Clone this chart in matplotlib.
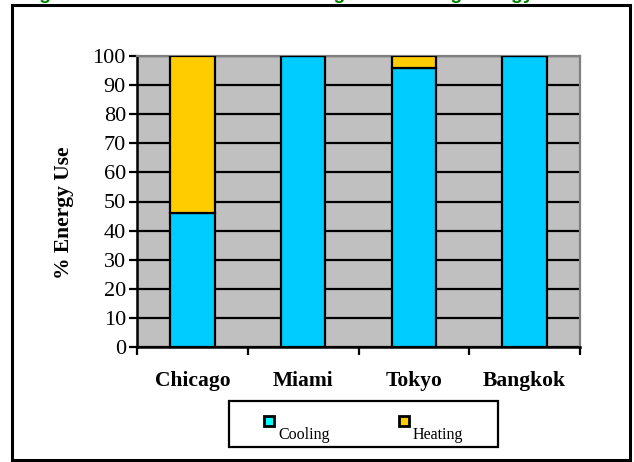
import matplotlib.pyplot as plt
from matplotlib.patches import Rectangle

cities = ['Chicago', 'Miami', 'Tokyo', 'Bangkok']
cooling = [46, 100, 96, 100]
heating = [54, 0, 4, 0]
series = ['Cooling', 'Heating']
colors = ['#00CCFF', '#FFCC00']
legend_colors = ['#00FFFF', '#FFCC00']

plt.rcParams['font.family'] = ['Liberation Serif', 'DejaVu Serif']

fig = plt.figure(figsize=(6.34, 4.62), dpi=100)
W, H = 634, 462

def fx(px):
    return px / W

def fy(py):
    return 1 - py / H

# green title, mostly cut off at top edge (as in the original)
fig.text(fx(22), fy(-1.0), 'Figure 2: Relative Share of Cooling and Heating Energy',
         color='#008000', fontsize=14, fontweight='bold', va='baseline', ha='left',
         family='Liberation Sans')

# outer frame
fig.patches.append(Rectangle((fx(12), fy(460)), fx(630) - fx(12), fy(5) - fy(460),
                             transform=fig.transFigure, fill=False, edgecolor='black',
                             linewidth=2.2))

ax = fig.add_axes([fx(137), fy(347), fx(580) - fx(137), fy(56) - fy(347)])
ax.set_facecolor('#C0C0C0')

x = range(len(cities))
ax.bar(x, cooling, width=0.4, color=colors[0], edgecolor='black', linewidth=1.6, zorder=3)
ax.bar(x, heating, width=0.4, bottom=cooling, color=colors[1], edgecolor='black',
       linewidth=1.6, zorder=3)

ax.set_xlim(-0.5, 3.5)
ax.set_ylim(0, 100)
ax.set_yticks(range(0, 101, 10))
ax.yaxis.grid(True, color='black', linewidth=1.6, zorder=1)
ax.set_axisbelow(True)

ax.set_xticks([i - 0.5 for i in range(5)], minor=False)
ax.set_xticklabels([])
ax.set_xticks(list(x), minor=True)
ax.set_xticklabels(cities, minor=True, fontsize=15.5, fontweight='bold')
ax.tick_params(axis='x', which='minor', length=0, pad=17)
ax.tick_params(axis='x', which='major', direction='out', length=6, width=1.6)
ax.tick_params(axis='y', direction='out', length=6, width=1.6, labelsize=16, pad=2)

for s in ['left', 'bottom']:
    ax.spines[s].set_linewidth(1.8)
    ax.spines[s].set_color('black')
for s in ['top', 'right']:
    ax.spines[s].set_linewidth(1.6)
    ax.spines[s].set_color('#808080')

ax.set_ylabel('% Energy Use', fontsize=15.5, fontweight='bold')
ax.yaxis.set_label_coords(-0.142, 0.46)

# legend box in Excel style
fig.patches.append(Rectangle((fx(229), fy(447)), fx(498) - fx(229), fy(401) - fy(447),
                             transform=fig.transFigure, facecolor='white',
                             edgecolor='black', linewidth=1.6))
for i, name in enumerate(series):
    mx = 264 + i * 135
    fig.patches.append(Rectangle((fx(mx), fy(426)), fx(10), 10 / H,
                                 transform=fig.transFigure, facecolor=legend_colors[i],
                                 edgecolor='black', linewidth=2))
    fig.text(fx(mx + 14), fy(439), name, fontsize=11.5, ha='left', va='baseline')

fig.savefig('out.png', dpi=100)
